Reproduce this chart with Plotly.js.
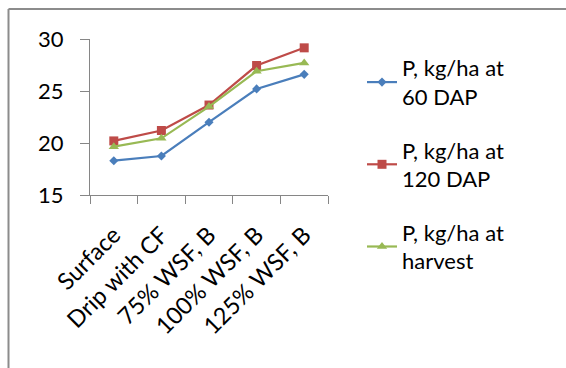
<!DOCTYPE html>
<html>
<head>
<meta charset="utf-8">
<script src="https://cdn.plot.ly/plotly-3.0.1.min.js"></script>
<style>html,body{margin:0;padding:0;background:#fff;}#chart{width:566px;height:368px;}</style>
</head>
<body>
<div id="chart"></div>
<script>
const categories = ["Surface", "Drip with CF", "75% WSF, B", "100% WSF, B", "125% WSF, B"];
const p60 = [18.3, 18.75, 22.0, 25.2, 26.6];
const p120 = [20.2, 21.2, 23.65, 27.45, 29.15];
const pHarvest = [19.65, 20.45, 23.5, 26.9, 27.7];
const seriesNames = ["P, kg/ha at<br>60 DAP", "P, kg/ha at<br>120 DAP", "P, kg/ha at<br>harvest"];
const yTicks = [15, 20, 25, 30];

const FONT = "Lato, 'Open Sans', sans-serif";
const FS = 22;
const traces = [
  {x: categories, y: p60, name: seriesNames[0], legendgroup: "a", mode: "lines+markers",
   line: {color: "#4a7ebb", width: 2.2}, marker: {symbol: "diamond", size: 7, color: "#4a7ebb"}},
  {x: categories, y: p120, name: seriesNames[1], legendgroup: "b", mode: "lines+markers",
   line: {color: "#be4b48", width: 2.2}, marker: {symbol: "square", size: 9, color: "#be4b48"}},
  {x: categories, y: pHarvest, name: seriesNames[2], legendgroup: "c", mode: "lines+markers",
   line: {color: "#98b954", width: 2.2}, marker: {symbol: "triangle-up", size: 9, color: "#98b954"}}
];

const W = 238, H = 156;
function px(x) { return (x - 90) / W; }
function py(y) { return (195 - y) / H; }

const layout = {
  width: 566, height: 368,
  margin: {l: 90, r: 238, t: 39, b: 173},
  paper_bgcolor: "#fff", plot_bgcolor: "#fff",
  font: {family: FONT, color: "#000", size: FS},
  showlegend: true,
  legend: {x: px(362), y: py(47), xanchor: "left", yanchor: "top", maxheight: 400,
    font: {family: FONT, size: FS, color: "#000"}, tracegroupgap: 22,
    bgcolor: "rgba(0,0,0,0)", traceorder: "grouped"},
  xaxis: {type: "category", showgrid: false, showline: true, linecolor: "#868686", linewidth: 1,
    ticks: "outside", tickson: "boundaries", ticklen: 8, tickcolor: "#868686",
    tickangle: -45, tickfont: {family: FONT, size: 23.5, color: "#000"}, ticklabelstandoff: 16,
    range: [-0.5, 4.5], zeroline: false},
  yaxis: {range: [15, 30], tickvals: yTicks, showgrid: false, showline: true, linecolor: "#868686",
    linewidth: 1, ticks: "outside", ticklen: 9, tickcolor: "#868686", ticklabelstandoff: 12,
    tickfont: {family: FONT, size: FS, color: "#000"}, zeroline: false},
  shapes: [
    {type: "line", xref: "paper", yref: "paper", x0: px(8.5), x1: px(566), y0: py(9), y1: py(9),
     line: {color: "#8c8c8c", width: 2}},
    {type: "line", xref: "paper", yref: "paper", x0: px(8.5), x1: px(8.5), y0: py(9), y1: py(368),
     line: {color: "#8c8c8c", width: 2}}
  ]
};

Plotly.newPlot("chart", traces, layout, {displayModeBar: false, staticPlot: true});
</script>
</body>
</html>
